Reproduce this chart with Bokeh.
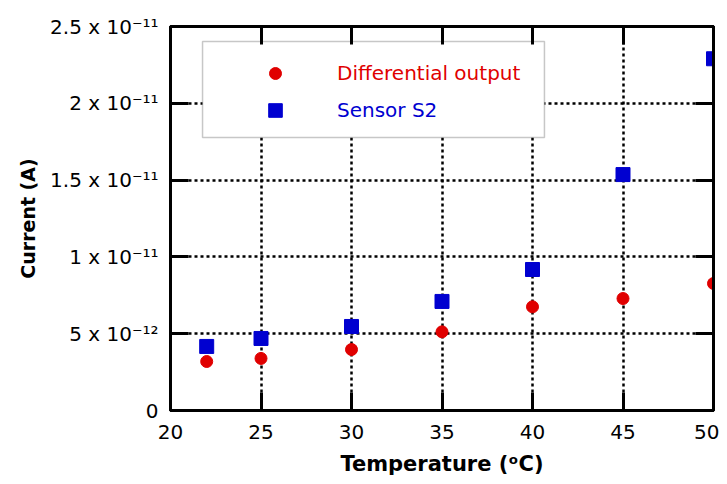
from bokeh.plotting import figure
from bokeh.models import (LinearAxis, FixedTicker, Legend, LegendItem, BoxAnnotation, Range1d)
from bokeh.embed import file_html
from bokeh.resources import INLINE

temps = [22, 25, 30, 35, 40, 45, 50]
diff_output = [3.19e-12, 3.39e-12, 3.97e-12, 5.12e-12, 6.75e-12, 7.29e-12, 8.27e-12]
sensor_s2 = [4.17e-12, 4.69e-12, 5.47e-12, 7.10e-12, 9.18e-12, 15.36e-12, 22.9e-12]

x_ticks = [20, 25, 30, 35, 40, 45, 50]
y_ticks = [0, 5e-12, 1e-11, 1.5e-11, 2e-11, 2.5e-11]
y_tick_labels = ["0", "5 x 10\u207b\u00b9\u00b2", "1 x 10\u207b\u00b9\u00b9", "1.5 x 10\u207b\u00b9\u00b9",
                 "2 x 10\u207b\u00b9\u00b9", "2.5 x 10\u207b\u00b9\u00b9"]

FONT = "DejaVu Sans"
RED = "#e00000"
BLUE = "#0000d0"

p = figure(width=719, height=484, output_backend="svg", toolbar_location=None,
           x_range=Range1d(20, 50), y_range=Range1d(0, 2.5e-11),
           min_border_left=170, min_border_right=6, min_border_top=26, min_border_bottom=74,
           x_axis_label="Temperature (\u1d52C)", y_axis_label="Current (A)")

p.outline_line_color = "black"
p.outline_line_width = 3

def style_axis(ax, ticks, labels=True):
    ax.ticker = FixedTicker(ticks=ticks)
    ax.axis_line_width = 3
    ax.axis_line_color = "black"
    ax.major_tick_in = 18
    ax.major_tick_out = 0
    ax.major_tick_line_width = 3
    ax.major_tick_line_color = "black"
    ax.minor_tick_line_color = None
    ax.major_label_text_font = FONT
    ax.major_label_text_font_size = "20px"
    ax.major_label_text_color = "black"
    ax.axis_label_text_font = FONT
    ax.axis_label_text_font_size = "21px"
    ax.axis_label_text_font_style = "bold"
    ax.axis_label_text_color = "black"
    if not labels:
        ax.major_label_overrides = {t: "" for t in ticks}

style_axis(p.xaxis[0], x_ticks)
style_axis(p.yaxis[0], y_ticks)
p.yaxis[0].axis_label_text_font_size = "19px"
p.xaxis[0].major_label_standoff = 14
p.xaxis[0].axis_label_standoff = 10
p.yaxis[0].major_label_standoff = 12
p.yaxis[0].axis_label_standoff = 8
p.yaxis[0].major_label_overrides = {t: l for t, l in zip(y_ticks, y_tick_labels)}

top_ax = LinearAxis()
style_axis(top_ax, x_ticks, labels=False)
p.add_layout(top_ax, "above")
right_ax = LinearAxis()
style_axis(right_ax, y_ticks, labels=False)
p.add_layout(right_ax, "right")

for g in (p.xgrid[0], p.ygrid[0]):
    g.grid_line_color = "black"
    g.grid_line_width = 2.5
    g.grid_line_dash = "3 3"
p.xgrid[0].ticker = FixedTicker(ticks=x_ticks[1:-1])
p.ygrid[0].ticker = FixedTicker(ticks=y_ticks[1:-1])

r_diff = p.scatter(temps, diff_output, marker="circle", size=12, color=RED)
r_s2 = p.scatter(temps, sensor_s2, marker="square", size=14, color=BLUE)

# legend frame
box = BoxAnnotation(left=21.77, right=40.66, bottom=17.77e-12, top=24.02e-12,
                    fill_color="white", fill_alpha=1, line_color="#444444", line_width=1.5,
                    level="underlay")
p.add_layout(box)

def make_legend(label, renderer, color, loc, gsize, standoff):
    lg = Legend(items=[LegendItem(label=label, renderers=[renderer])],
                location=loc, orientation="vertical",
                padding=0, margin=0, spacing=0,
                glyph_width=gsize, glyph_height=gsize, label_height=gsize,
                label_standoff=standoff, label_text_font=FONT, label_text_font_size="20px",
                label_text_color=color, border_line_color=None,
                background_fill_alpha=0, click_policy="none")
    return lg

p.add_layout(make_legend("Differential output", r_diff, RED, (90, 322), 30, 47), "center")
p.add_layout(make_legend("Sensor S2", r_s2, BLUE, (88, 283), 34, 45), "center")

open("out.html", "w").write(file_html(p, INLINE))
